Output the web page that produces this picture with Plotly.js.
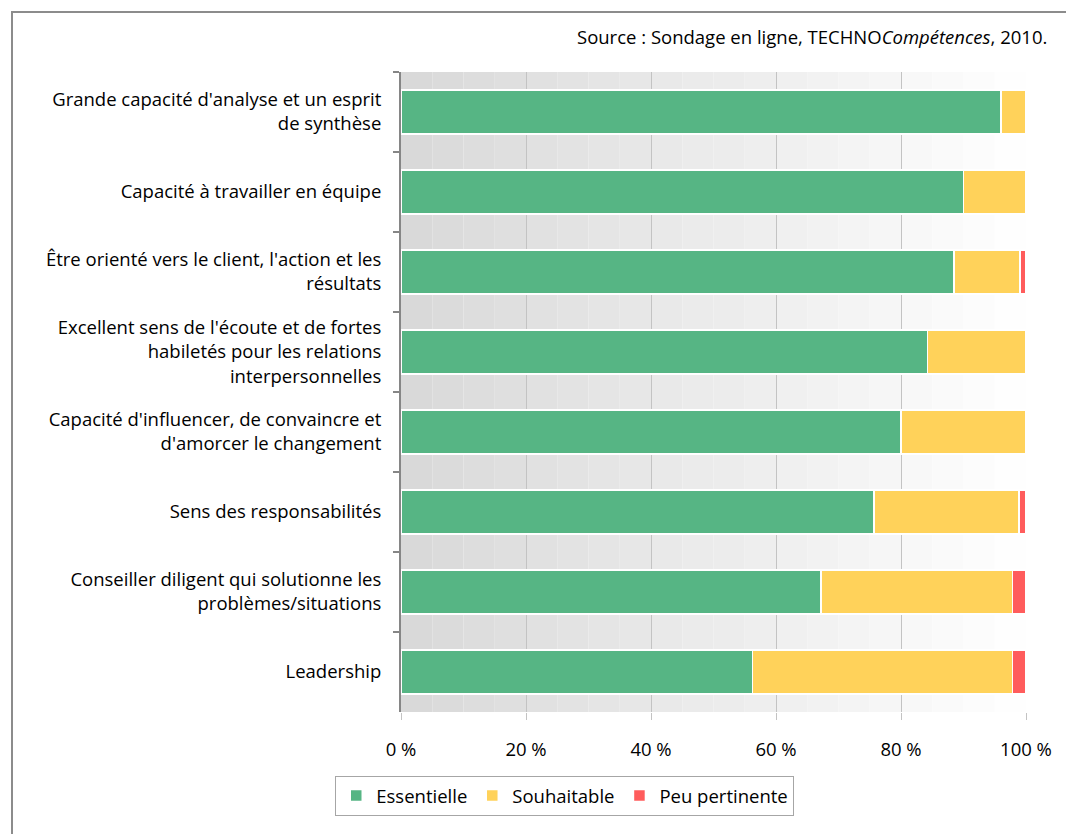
<!DOCTYPE html>
<html>
<head>
<meta charset="utf-8">
<script src="https://cdn.plot.ly/plotly-3.0.1.min.js"></script>
<style>
  html, body { margin: 0; padding: 0; background: #ffffff; }
  #chart { position: absolute; left: 0; top: 0; width: 1066px; height: 834px; }
  #frame { position: absolute; left: 11px; top: 11px; width: 1100px; height: 900px;
           border-left: 2px solid #8c8c8c; border-top: 2px solid #8c8c8c; pointer-events: none; }
</style>
</head>
<body>
<div id="chart"></div>
<div id="frame"></div>
<script>
const categories = [
  "Grande capacité d'analyse et un esprit<br>de synthèse",
  "Capacité à travailler en équipe",
  "Être orienté vers le client, l'action et les<br>résultats",
  "Excellent sens de l'écoute et de fortes<br>habiletés pour les relations<br>interpersonnelles",
  "Capacité d'influencer, de convaincre et<br>d'amorcer le changement",
  "Sens des responsabilités",
  "Conseiller diligent qui solutionne les<br>problèmes/situations",
  "Leadership"
];
const essentielle     = [96, 90, 88.5, 84.2, 80, 75.7, 67.2, 56.2];
const souhaitable     = [4, 10, 10.5, 15.8, 20, 23.2, 30.6, 41.6];
const peuPertinente   = [0, 0, 1.0, 0, 0, 1.1, 2.2, 2.2];
const xTickVals = [0, 20, 40, 60, 80, 100];
const xTickText = ["0 %", "20 %", "40 %", "60 %", "80 %", "100 %"];

const FONT = "'Open Sans', Lato, sans-serif";
const FS = 18.5;

function barTrace(name, values, color) {
  return {
    type: 'bar', orientation: 'h', name: name,
    y: categories, x: values,
    marker: { color: color, line: { color: '#ffffff', width: 1.5 } },
    hoverinfo: 'skip'
  };
}

const traces = [
  barTrace('Essentielle', essentielle, '#56b584'),
  barTrace('Souhaitable', souhaitable, '#ffd25a'),
  barTrace('Peu pertinente', peuPertinente, '#ff5c5c')
];

// stepped grey background (gradient imitation)
const shapes = [];
const steps = 20;
for (let i = 0; i < steps; i++) {
  const t = i / (steps - 1);
  const v = Math.round(0xd9 + (0xfe - 0xd9) * t);
  shapes.push({
    type: 'rect', layer: 'below', xref: 'x', yref: 'paper',
    x0: i * 100 / steps, x1: (i + 1) * 100 / steps, y0: 0, y1: 1,
    fillcolor: `rgb(${v},${v},${v})`, line: { width: 0 }
  });
}

const layout = {
  width: 1066, height: 834,
  margin: { l: 401, r: 40, t: 72, b: 122 },
  paper_bgcolor: '#ffffff', plot_bgcolor: 'rgba(0,0,0,0)',
  barmode: 'stack', bargap: 0.45,
  showlegend: true,
  font: { family: FONT, size: FS, color: '#000000' },
  xaxis: {
    range: [0, 100], tickvals: xTickVals, ticktext: xTickText,
    showgrid: true, gridcolor: '#c3c3c3', gridwidth: 1,
    zeroline: false, showline: false,
    ticks: 'outside', ticklen: 7, tickcolor: '#c3c3c3', tickwidth: 1,
    ticklabelstandoff: 14,
    tickfont: { family: FONT, size: FS, color: '#000000' },
    fixedrange: true
  },
  yaxis: {
    type: 'category', autorange: 'reversed',
    tickson: 'boundaries', ticks: 'outside', ticklen: 6, tickcolor: '#868686', tickwidth: 2,
    showline: true, linecolor: '#868686', linewidth: 2,
    showgrid: false, zeroline: false,
    ticklabelstandoff: 14,
    tickfont: { family: FONT, size: FS, color: '#000000' },
    fixedrange: true
  },
  legend: {
    orientation: 'h', x: 0.262, xanchor: 'center', y: -0.1, yanchor: 'top',
    bordercolor: '#a6a6a6', borderwidth: 1, bgcolor: '#ffffff',
    font: { family: FONT, size: FS, color: '#000000' },
    traceorder: 'normal', itemwidth: 30
  },
  shapes: shapes,
  annotations: [{
    xref: 'paper', yref: 'paper', x: 1.037, y: 1.055, xanchor: 'right', yanchor: 'middle',
    text: 'Source : Sondage en ligne, TECHNO<i>Compétences</i>, 2010.',
    showarrow: false, font: { family: FONT, size: FS, color: '#000000' }
  }],
  hovermode: false
};

Plotly.newPlot('chart', traces, layout, { displayModeBar: false, staticPlot: true });
</script>
</body>
</html>
